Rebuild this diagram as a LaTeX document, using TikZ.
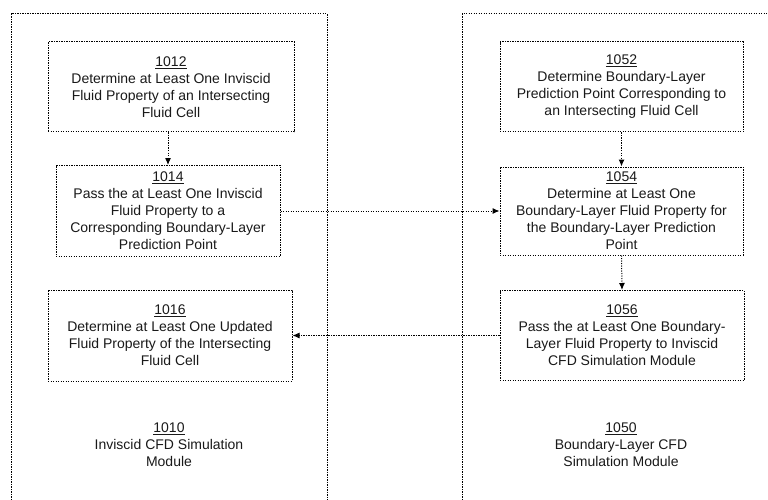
\documentclass[tikz,border=0pt]{standalone}
\usepackage{fontspec}
\setmainfont{Liberation Sans}
\usetikzlibrary{arrows.meta}
\begin{document}
\begin{tikzpicture}[x=1pt,y=-1pt,
  dotline/.style={dash pattern=on 1.2pt off 1.3pt, line width=1pt, draw=black},
  stepbox/.style={dotline, rectangle, inner sep=0pt, align=center,
    font=\fontsize{14}{17}\selectfont, text=black!90},
  modlabel/.style={align=center, font=\fontsize{14}{17}\selectfont, text=black!90},
  conn/.style={dotline, -{Latex[length=7pt,width=6pt]}}
]
\useasboundingbox (0,0) rectangle (768,500);
\clip (0,0) rectangle (768,500);
% outer modules
\draw[dotline] (11,510) -- (11,14) -- (327,14) -- (327,510);
\draw[dotline] (462,510) -- (462,14) -- (775,14);
% left column
\node[stepbox, minimum width=246pt, minimum height=90pt] (b1012) at (171,87)
  {\underline{1012}\\Determine at Least One Inviscid\\Fluid Property of an Intersecting\\Fluid Cell};
\node[stepbox, minimum width=224pt, minimum height=91pt] (b1014) at (168,211)
  {\underline{1014}\\Pass the at Least One Inviscid\\Fluid Property to a\\Corresponding Boundary-Layer\\Prediction Point};
\node[stepbox, minimum width=244pt, minimum height=91pt] (b1016) at (170,335.5)
  {\underline{1016}\\Determine at Least One Updated\\Fluid Property of the Intersecting\\Fluid Cell};
\node[modlabel] (m1010) at (169,445)
  {\underline{1010}\\Inviscid CFD Simulation\\Module};
% right column
\node[stepbox, minimum width=243pt, minimum height=90pt] (b1052) at (621.5,87)
  {\underline{1052}\\Determine Boundary-Layer\\Prediction Point Corresponding to\\an Intersecting Fluid Cell};
\node[stepbox, minimum width=243pt, minimum height=88pt] (b1054) at (621.5,211)
  {\underline{1054}\\Determine at Least One\\Boundary-Layer Fluid Property for\\the Boundary-Layer Prediction\\Point};
\node[stepbox, minimum width=244pt, minimum height=90pt] (b1056) at (622,335.5)
  {\underline{1056}\\Pass the at Least One Boundary-\\Layer Fluid Property to Inviscid\\CFD Simulation Module};
\node[modlabel] (m1050) at (621,445)
  {\underline{1050}\\Boundary-Layer CFD\\Simulation Module};
% connectors
\draw[conn] (b1012.south -| b1014.north) -- (b1014.north);
\draw[conn] (b1052.south) -- (b1054.north);
\draw[conn] (b1054.south) -- (b1056.north);
\draw[conn] (b1014.east) -- (b1054.west);
\draw[conn] (b1056.west) -- (b1016.east);
\end{tikzpicture}
\end{document}
